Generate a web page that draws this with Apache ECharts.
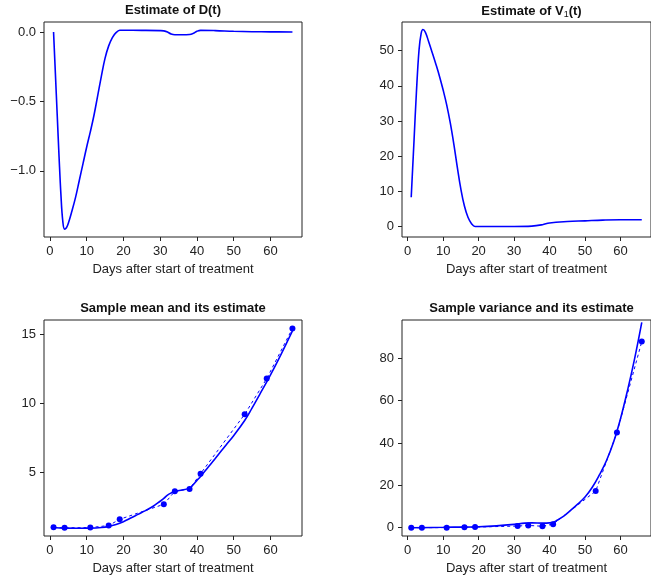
<!DOCTYPE html>
<html>
<head>
<meta charset="utf-8">
<script src="https://cdn.jsdelivr.net/npm/echarts@6/dist/echarts.min.js"></script>
<style>html,body{margin:0;padding:0;background:#fff;}#c{width:651px;height:580px;}</style>
</head>
<body>
<div id="c"></div>
<script>
// ---- data ----
const dDays = [1, 1.5, 2, 2.5, 3, 3.5, 4, 4.5, 5, 6, 7, 8, 9, 10, 11, 12, 13, 14, 15, 16, 17, 18, 19, 20, 25, 30, 31, 32, 33, 34, 36, 38, 39, 40, 41, 45, 50, 55, 60, 66];
const dVals = [0, -0.3, -0.6, -0.9, -1.17, -1.36, -1.42, -1.41, -1.38, -1.29, -1.19, -1.07, -0.95, -0.83, -0.72, -0.6, -0.46, -0.32, -0.19, -0.1, -0.04, -0.005, 0.012, 0.013, 0.012, 0.01, 0.008, 0, -0.015, -0.02, -0.02, -0.018, -0.01, 0.005, 0.012, 0.01, 0.005, 0.002, 0.001, 0.0];

const v1Days = [1, 1.4, 1.8, 2.45, 3.2, 3.8, 4.3, 5, 5.9, 7, 8, 9, 10, 11, 12, 13, 14, 15, 16, 17, 18, 19, 25, 30, 35, 38, 40, 45, 50, 55, 60, 66];
const v1Vals = [8.3, 16.5, 24.6, 37.9, 50.2, 54.9, 56.0, 55.2, 52.6, 49.2, 46.0, 42.6, 38.8, 34.6, 29.5, 23.5, 16.8, 10.6, 5.8, 2.6, 0.8, 0, 0, 0, 0.1, 0.5, 1.0, 1.4, 1.6, 1.8, 1.9, 1.9];

const sampleDays = [1, 4, 11, 16, 19, 31, 34, 38, 41, 53, 59, 66];
const sampleMean = [1.01, 0.97, 0.99, 1.14, 1.59, 2.68, 3.62, 3.79, 4.90, 9.2, 11.79, 15.43];
const sampleVar = [0.0, 0.05, 0.05, 0.2, 0.3, 0.8, 1.1, 0.7, 1.7, 17.3, 45.0, 87.9];

const meanEstDays = [1, 4, 8, 11, 14, 16, 18, 20, 22, 24, 26, 28, 30, 31, 32, 33, 34, 36, 38, 39, 40, 41, 43, 45, 48, 50, 53, 55, 57, 59, 61, 63, 66];
const meanEstVals = [1.0, 0.95, 0.94, 0.95, 1.0, 1.08, 1.22, 1.42, 1.68, 1.95, 2.22, 2.52, 2.9, 3.1, 3.35, 3.5, 3.6, 3.72, 3.85, 4.1, 4.4, 4.7, 5.35, 6.0, 7.0, 7.65, 8.75, 9.65, 10.6, 11.55, 12.55, 13.6, 15.25];

const varEstDays = [1, 10, 20, 25, 30, 33, 35, 38, 40, 41, 42, 44, 46, 48, 50, 52, 54, 56, 58, 60, 62, 64, 66];
const varEstVals = [0.0, 0.2, 0.5, 0.9, 1.6, 2.2, 2.3, 2.2, 2.3, 2.6, 3.4, 5.5, 8.3, 11.3, 14.5, 19.0, 24.8, 31.5, 40.2, 51.5, 65, 80, 97];

const xTicks = [0, 10, 20, 30, 40, 50, 60];
const dTicks = [-1.0, -0.5, 0.0];
const v1Ticks = [0, 10, 20, 30, 40, 50];
const meanTicks = [5, 10, 15];
const varTicks = [0, 20, 40, 60, 80];

const titles = ['Estimate of D(t)', '{b|Estimate of V}{s|1}{b|(t)}', 'Sample mean and its estimate', 'Sample variance and its estimate'];
const xName = 'Days after start of treatment';

// ---- chart ----
const zip = (a, b) => a.map((v, i) => [v, b[i]]);
const BLUE = '#0000ff';
const INK = '#222';
const FONT = 'Liberation Sans, Arial, sans-serif';
const FS = 13;

const grids = [
  {left: 44, top: 22, width: 258, height: 215},
  {left: 402, top: 22, width: 259, height: 215},
  {left: 44, top: 320, width: 258, height: 216},
  {left: 402, top: 320, width: 259, height: 216}
];
const yRanges = [[-1.477, 0.072], [-3.0, 58.15], [0.38, 16.04], [-3.9, 98.1]];
const yTickSets = [dTicks, v1Ticks, meanTicks, varTicks];
const fmtMinus = v => (v < 0 ? '\u2212' : '') + Math.abs(v).toFixed(1);

const option = {
  backgroundColor: '#fff',
  animation: false,
  textStyle: {fontFamily: FONT},
  title: titles.map((t, i) => ({
    text: t,
    left: grids[i].left + (i % 2 === 1 ? 129.5 : 129),
    top: i < 2 ? 4 : 302,
    textAlign: 'center',
    padding: 0,
    textStyle: {
      fontFamily: FONT, fontSize: FS, fontWeight: 'bold', color: '#111',
      rich: {
        b: {fontFamily: FONT, fontSize: FS, fontWeight: 'bold', color: '#111'},
        s: {fontFamily: FONT, fontSize: 9, fontWeight: 'normal', color: '#111', padding: [6, 0, 0, 0]}
      }
    }
  })),
  grid: grids.map(g => Object.assign({show: true, borderColor: INK, borderWidth: 1, backgroundColor: '#fff'}, g)),
  xAxis: grids.map((g, i) => ({
    type: 'value', gridIndex: i, min: -1.6, max: 68.6,
    name: xName, nameLocation: 'middle', nameGap: 26,
    nameTextStyle: {fontFamily: FONT, fontSize: FS, color: INK},
    axisLine: {show: false, onZero: false},
    splitLine: {show: false},
    axisTick: {show: true, length: 4, inside: false, customValues: xTicks, lineStyle: {color: INK}},
    axisLabel: {fontFamily: FONT, fontSize: FS, color: INK, margin: 8, customValues: xTicks}
  })),
  yAxis: grids.map((g, i) => ({
    type: 'value', gridIndex: i, min: yRanges[i][0], max: yRanges[i][1],
    axisLine: {show: false, onZero: false},
    splitLine: {show: false},
    axisTick: {show: true, length: 4, inside: false, customValues: yTickSets[i], lineStyle: {color: INK}},
    axisLabel: {fontFamily: FONT, fontSize: FS, color: INK, margin: 8, customValues: yTickSets[i],
      formatter: i === 0 ? fmtMinus : (v => String(Math.round(v)))}
  })),
  series: [
    {type: 'line', xAxisIndex: 0, yAxisIndex: 0, data: zip(dDays, dVals), smooth: 0.4, showSymbol: false, lineStyle: {color: BLUE, width: 1.6}},
    {type: 'line', xAxisIndex: 1, yAxisIndex: 1, data: zip(v1Days, v1Vals), smooth: 0.4, showSymbol: false, lineStyle: {color: BLUE, width: 1.6}},
    {type: 'line', xAxisIndex: 2, yAxisIndex: 2, data: zip(sampleDays, sampleMean), showSymbol: false, lineStyle: {color: BLUE, width: 1, type: [3, 3]}},
    {type: 'line', xAxisIndex: 2, yAxisIndex: 2, data: zip(meanEstDays, meanEstVals), smooth: 0.4, showSymbol: false, lineStyle: {color: BLUE, width: 1.6}},
    {type: 'scatter', xAxisIndex: 2, yAxisIndex: 2, data: zip(sampleDays, sampleMean), symbolSize: 6, itemStyle: {color: BLUE, opacity: 1}},
    {type: 'line', xAxisIndex: 3, yAxisIndex: 3, data: zip(sampleDays, sampleVar), showSymbol: false, lineStyle: {color: BLUE, width: 1, type: [3, 3]}},
    {type: 'line', xAxisIndex: 3, yAxisIndex: 3, data: zip(varEstDays, varEstVals), smooth: 0.4, showSymbol: false, lineStyle: {color: BLUE, width: 1.6}},
    {type: 'scatter', xAxisIndex: 3, yAxisIndex: 3, data: zip(sampleDays, sampleVar), symbolSize: 6, itemStyle: {color: BLUE, opacity: 1}}
  ]
};
const chart = echarts.init(document.getElementById('c'), null, {renderer: 'canvas'});
chart.setOption(option);
</script>
</body>
</html>
